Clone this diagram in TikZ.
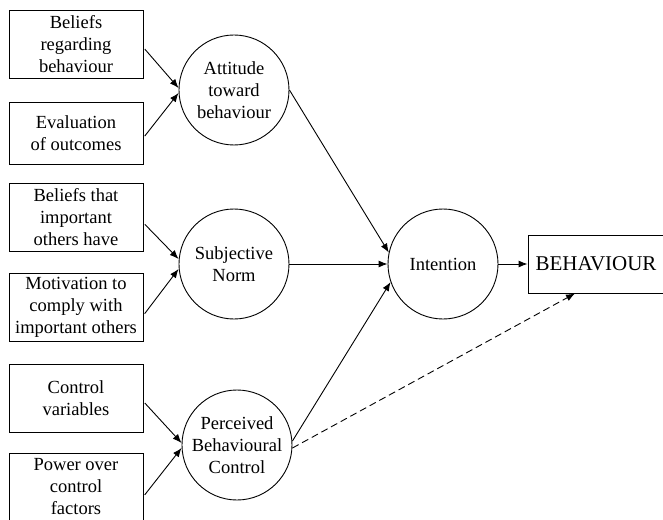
\documentclass[tikz,border=0pt]{standalone}
\usepackage{fontspec}
\setmainfont{Liberation Serif}
\usetikzlibrary{positioning,arrows.meta}

\begin{document}
\begin{tikzpicture}[on grid,line width=0.9pt,
    >={Latex[length=9pt,width=7pt]},
    every node/.style={font=\fontsize{18.5pt}{22pt}\selectfont},
    box/.style={draw,minimum width=134pt,minimum height=68pt,align=center,inner sep=2pt},
    circ/.style={draw,circle,minimum size=110pt,inner sep=0pt,align=center}]
       \useasboundingbox (-443pt,-255pt) rectangle (220pt,264pt);
       \node[circ] (Int) at (0,0) {Intention};
       \node[draw,minimum width=136pt,minimum height=58pt,font=\fontsize{21pt}{24pt}\selectfont] (Beh) [right=153pt of Int] {BEHAVIOUR};
       \node[circ] (Subj) [left=209pt of Int] {Subjective\\Norm};
       \node[circ] (Att) [above=174pt of Subj] {Attitude\\toward\\behaviour};
       \node[circ] (PBC) [below right=181pt and 3pt of Subj] {Perceived\\Behavioural\\Control};
       \node[box] (Bel) [above left=46pt and 158pt of Att] {Beliefs\\regarding\\behaviour};
       \node[box,minimum height=62pt] (Eval) [below left=43pt and 158pt of Att] {Evaluation\\of outcomes};
       \node[box] (Imp) [above left=47pt and 158pt of Subj] {Beliefs that\\important\\others have};
       \node[box] (Mot) [below left=43pt and 158pt of Subj] {Motivation to\\comply with\\important others};
       \node[box] (Var) [above left=47pt and 161pt of PBC] {Control\\variables};
       \node[box] (Pow) [below left=42pt and 161pt of PBC] {Power over\\control\\factors};
        \path[->,shorten <=2pt]
        (Bel.-3) edge ([yshift=2pt]Att.west)
        (Eval.-4) edge ([yshift=-3pt]Att.west)
        (Imp.-5) edge ([yshift=5pt]Subj.west)
        (Mot.-7) edge ([yshift=-5pt]Subj.west)
        (Var.-3) edge ([yshift=2pt]PBC.west)
        (Pow.-8) edge ([yshift=-3pt]PBC.west);
        \path[->]
        (Att.east) edge (Int.168)
        (Subj) edge (Int)
        ([yshift=4pt]PBC.east) edge (Int.199)
        (Int) edge (Beh);
        \draw[->,dash pattern=on 7pt off 4pt] ([yshift=-3pt]PBC.east) -- ([xshift=-21pt]Beh.south);
    \end{tikzpicture}
\end{document}
